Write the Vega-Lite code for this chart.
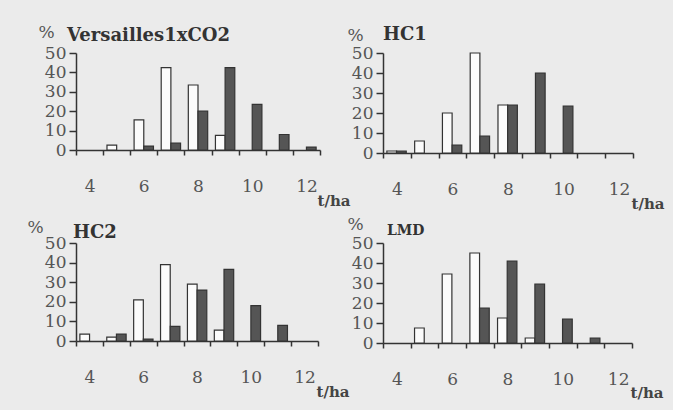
{
  "$schema": "https://vega.github.io/schema/vega-lite/v6.json",
  "padding": {"left": 27, "top": 23, "right": 10, "bottom": 12},
  "background": "#ebebeb",
  "data": {"values": [
    {"panel": "Versailles1xCO2", "t": 5, "series": "white", "pct": 2.5},
    {"panel": "Versailles1xCO2", "t": 6, "series": "white", "pct": 15.5},
    {"panel": "Versailles1xCO2", "t": 7, "series": "white", "pct": 42.5},
    {"panel": "Versailles1xCO2", "t": 8, "series": "white", "pct": 33.5},
    {"panel": "Versailles1xCO2", "t": 9, "series": "white", "pct": 7.5},
    {"panel": "Versailles1xCO2", "t": 6, "series": "dark", "pct": 2},
    {"panel": "Versailles1xCO2", "t": 7, "series": "dark", "pct": 3.5},
    {"panel": "Versailles1xCO2", "t": 8, "series": "dark", "pct": 20},
    {"panel": "Versailles1xCO2", "t": 9, "series": "dark", "pct": 42.5},
    {"panel": "Versailles1xCO2", "t": 10, "series": "dark", "pct": 23.5},
    {"panel": "Versailles1xCO2", "t": 11, "series": "dark", "pct": 8},
    {"panel": "Versailles1xCO2", "t": 12, "series": "dark", "pct": 1.5},
    {"panel": "HC1", "t": 4, "series": "white", "pct": 1},
    {"panel": "HC1", "t": 5, "series": "white", "pct": 6},
    {"panel": "HC1", "t": 6, "series": "white", "pct": 20},
    {"panel": "HC1", "t": 7, "series": "white", "pct": 50},
    {"panel": "HC1", "t": 8, "series": "white", "pct": 24},
    {"panel": "HC1", "t": 4, "series": "dark", "pct": 1},
    {"panel": "HC1", "t": 6, "series": "dark", "pct": 4},
    {"panel": "HC1", "t": 7, "series": "dark", "pct": 8.5},
    {"panel": "HC1", "t": 8, "series": "dark", "pct": 24},
    {"panel": "HC1", "t": 9, "series": "dark", "pct": 40},
    {"panel": "HC1", "t": 10, "series": "dark", "pct": 23.5},
    {"panel": "HC2", "t": 4, "series": "white", "pct": 3.5},
    {"panel": "HC2", "t": 5, "series": "white", "pct": 2},
    {"panel": "HC2", "t": 6, "series": "white", "pct": 21},
    {"panel": "HC2", "t": 7, "series": "white", "pct": 39},
    {"panel": "HC2", "t": 8, "series": "white", "pct": 29},
    {"panel": "HC2", "t": 9, "series": "white", "pct": 5.5},
    {"panel": "HC2", "t": 5, "series": "dark", "pct": 3.5},
    {"panel": "HC2", "t": 6, "series": "dark", "pct": 1},
    {"panel": "HC2", "t": 7, "series": "dark", "pct": 7.5},
    {"panel": "HC2", "t": 8, "series": "dark", "pct": 26},
    {"panel": "HC2", "t": 9, "series": "dark", "pct": 36.5},
    {"panel": "HC2", "t": 10, "series": "dark", "pct": 18},
    {"panel": "HC2", "t": 11, "series": "dark", "pct": 8},
    {"panel": "LMD", "t": 5, "series": "white", "pct": 7.5},
    {"panel": "LMD", "t": 6, "series": "white", "pct": 34.5},
    {"panel": "LMD", "t": 7, "series": "white", "pct": 45},
    {"panel": "LMD", "t": 8, "series": "white", "pct": 12.5},
    {"panel": "LMD", "t": 9, "series": "white", "pct": 2.5},
    {"panel": "LMD", "t": 7, "series": "dark", "pct": 17.5},
    {"panel": "LMD", "t": 8, "series": "dark", "pct": 41},
    {"panel": "LMD", "t": 9, "series": "dark", "pct": 29.5},
    {"panel": "LMD", "t": 10, "series": "dark", "pct": 12},
    {"panel": "LMD", "t": 11, "series": "dark", "pct": 2.5}
  ]},
  "bounds": "flush",
  "spacing": 190,
  "vconcat": [
    {
      "bounds": "flush",
      "spacing": 63,
      "hconcat": [
        {
          "width": 244, "height": 97,
          "title": {"text": "Versailles1xCO2", "frame": "group", "dx": -9, "dy": 26},
          "transform": [{"filter": "datum.panel == 'Versailles1xCO2'"}],
          "mark": {"type": "bar", "stroke": "#333", "strokeWidth": 1.2},
          "encoding": {
            "x": {"field": "t", "type": "ordinal", "scale": {"domain": [4,5,6,7,8,9,10,11,12], "paddingInner": 0, "paddingOuter": 0},
                  "axis": {"tickBand": "extent", "labelExpr": "datum.value % 2 == 0 ? datum.label : ''", "labelAngle": 0, "labelPadding": 23, "tickSize": 5, "title": "t/ha", "titleX": 241, "titleY": 55, "titleAlign": "left", "titleBaseline": "alphabetic", "titleFontSize": 15, "titleFontWeight": "bold", "titleFont": "DejaVu Serif", "titleColor": "#444"}},
            "xOffset": {"field": "series", "scale": {"domain": ["white","dark"], "paddingInner": 0, "paddingOuter": 0.4}},
            "y": {"field": "pct", "type": "quantitative", "scale": {"domain": [0,50]},
                  "axis": {"values": [0,10,20,30,40,50], "tickSize": 7, "labelPadding": 3, "title": "%", "titleAngle": 0, "titleX": -38, "titleY": -16, "titleAlign": "left", "titleBaseline": "alphabetic", "titleFontWeight": "normal", "titleFontSize": 17, "titleFont": "DejaVu Serif", "titleColor": "#555"}},
            "color": {"field": "series", "scale": {"domain": ["white","dark"], "range": ["#fbfbfb", "#555555"]}, "legend": null}
          }
        },
        {
          "width": 250, "height": 100,
          "title": {"text": "HC1", "frame": "group", "dx": 0, "dy": 22},
          "transform": [{"filter": "datum.panel == 'HC1'"}],
          "mark": {"type": "bar", "stroke": "#333", "strokeWidth": 1.2},
          "encoding": {
            "x": {"field": "t", "type": "ordinal", "scale": {"domain": [4,5,6,7,8,9,10,11,12], "paddingInner": 0, "paddingOuter": 0},
                  "axis": {"tickBand": "extent", "labelExpr": "datum.value % 2 == 0 ? datum.label : ''", "labelAngle": 0, "labelPadding": 23, "tickSize": 5, "title": "t/ha", "titleX": 248, "titleY": 55, "titleAlign": "left", "titleBaseline": "alphabetic", "titleFontSize": 15, "titleFontWeight": "bold", "titleFont": "DejaVu Serif", "titleColor": "#444"}},
            "xOffset": {"field": "series", "scale": {"domain": ["white","dark"], "paddingInner": 0, "paddingOuter": 0.4}},
            "y": {"field": "pct", "type": "quantitative", "scale": {"domain": [0,50]},
                  "axis": {"values": [0,10,20,30,40,50], "tickSize": 7, "labelPadding": 3, "title": "%", "titleAngle": 0, "titleX": -36, "titleY": -13, "titleAlign": "left", "titleBaseline": "alphabetic", "titleFontWeight": "normal", "titleFontSize": 17, "titleFont": "DejaVu Serif", "titleColor": "#555"}},
            "color": {"field": "series", "scale": {"domain": ["white","dark"], "range": ["#fbfbfb", "#555555"]}, "legend": null}
          }
        }
      ]
    },
    {
      "bounds": "flush",
      "spacing": 65,
      "hconcat": [
        {
          "width": 242, "height": 98,
          "title": {"text": "HC2", "frame": "group", "dx": -3, "dy": 28},
          "transform": [{"filter": "datum.panel == 'HC2'"}],
          "mark": {"type": "bar", "stroke": "#333", "strokeWidth": 1.2},
          "encoding": {
            "x": {"field": "t", "type": "ordinal", "scale": {"domain": [4,5,6,7,8,9,10,11,12], "paddingInner": 0, "paddingOuter": 0},
                  "axis": {"tickBand": "extent", "labelExpr": "datum.value % 2 == 0 ? datum.label : ''", "labelAngle": 0, "labelPadding": 23, "tickSize": 5, "title": "t/ha", "titleX": 240, "titleY": 55, "titleAlign": "left", "titleBaseline": "alphabetic", "titleFontSize": 15, "titleFontWeight": "bold", "titleFont": "DejaVu Serif", "titleColor": "#444"}},
            "xOffset": {"field": "series", "scale": {"domain": ["white","dark"], "paddingInner": 0, "paddingOuter": 0.4}},
            "y": {"field": "pct", "type": "quantitative", "scale": {"domain": [0,50]},
                  "axis": {"values": [0,10,20,30,40,50], "tickSize": 7, "labelPadding": 3, "title": "%", "titleAngle": 0, "titleX": -49, "titleY": -11, "titleAlign": "left", "titleBaseline": "alphabetic", "titleFontWeight": "normal", "titleFontSize": 17, "titleFont": "DejaVu Serif", "titleColor": "#555"}},
            "color": {"field": "series", "scale": {"domain": ["white","dark"], "range": ["#fbfbfb", "#555555"]}, "legend": null}
          }
        },
        {
          "width": 249, "height": 100,
          "title": {"text": "LMD", "frame": "group", "dx": 4, "dy": 27, "fontSize": 14},
          "transform": [{"filter": "datum.panel == 'LMD'"}],
          "mark": {"type": "bar", "stroke": "#333", "strokeWidth": 1.2},
          "encoding": {
            "x": {"field": "t", "type": "ordinal", "scale": {"domain": [4,5,6,7,8,9,10,11,12], "paddingInner": 0, "paddingOuter": 0},
                  "axis": {"tickBand": "extent", "labelExpr": "datum.value % 2 == 0 ? datum.label : ''", "labelAngle": 0, "labelPadding": 23, "tickSize": 5, "title": "t/ha", "titleX": 247, "titleY": 54, "titleAlign": "left", "titleBaseline": "alphabetic", "titleFontSize": 15, "titleFontWeight": "bold", "titleFont": "DejaVu Serif", "titleColor": "#444"}},
            "xOffset": {"field": "series", "scale": {"domain": ["white","dark"], "paddingInner": 0, "paddingOuter": 0.4}},
            "y": {"field": "pct", "type": "quantitative", "scale": {"domain": [0,50]},
                  "axis": {"values": [0,10,20,30,40,50], "tickSize": 7, "labelPadding": 3, "title": "%", "titleAngle": 0, "titleX": -36, "titleY": -14, "titleAlign": "left", "titleBaseline": "alphabetic", "titleFontWeight": "normal", "titleFontSize": 17, "titleFont": "DejaVu Serif", "titleColor": "#555"}},
            "color": {"field": "series", "scale": {"domain": ["white","dark"], "range": ["#fbfbfb", "#555555"]}, "legend": null}
          }
        }
      ]
    }
  ],
  "config": {
    "view": {"stroke": null},
    "font": "DejaVu Serif",
    "axis": {"domainColor": "#333", "tickColor": "#333", "labelColor": "#555", "labelFont": "DejaVu Serif", "labelFontSize": 17, "grid": false, "domainWidth": 1.5, "tickWidth": 1.5},
    "title": {"font": "DejaVu Serif", "fontSize": 18, "fontWeight": "bold", "color": "#333", "anchor": "start"}
  }
}
